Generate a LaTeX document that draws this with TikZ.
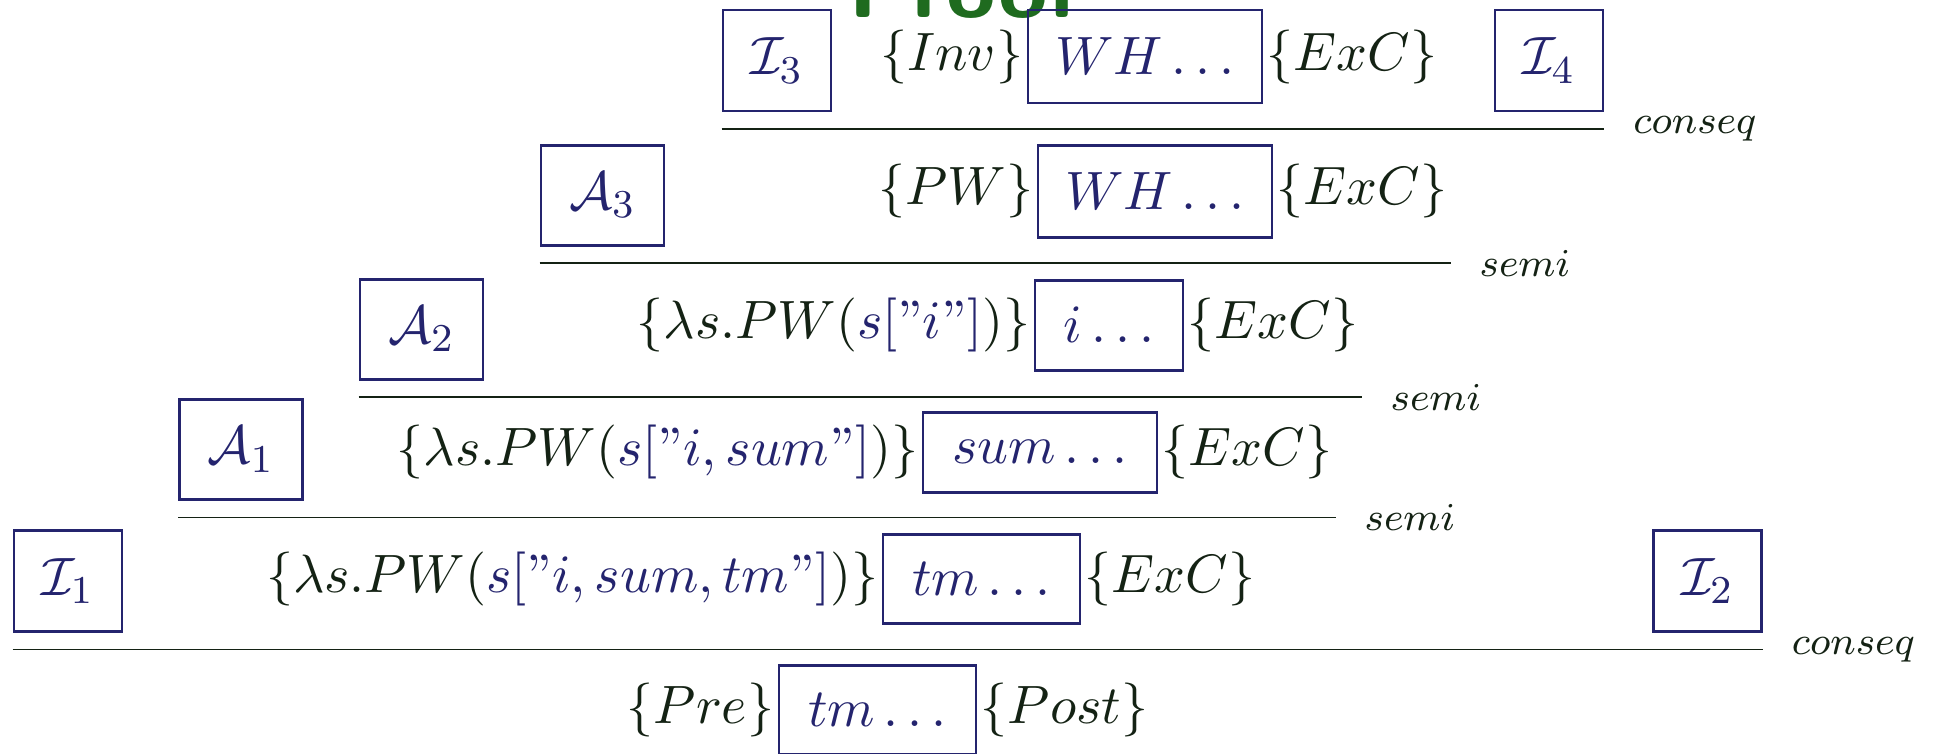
\documentclass[11pt,tikz,border=0pt]{standalone}
\usetikzlibrary{positioning,calc}
\definecolor{navy}{HTML}{24246E}
\definecolor{ink}{HTML}{142214}
\definecolor{proofgreen}{HTML}{1F6B1F}
\newcommand{\pxu}{0.00713cm}
\newcommand{\qq}{\mbox{\textquotedblright}}
\tikzset{
  sidebox/.style={draw=navy, line width=0.6pt, text=navy, inner sep=0pt},
  boxI/.style={sidebox, minimum width=108*\pxu, minimum height=101*\pxu},
  boxA/.style={sidebox, minimum width=123*\pxu, minimum height=100*\pxu},
  progbox/.style={draw=navy, line width=0.6pt, text=navy, inner sep=0pt},
  assn/.style={text=ink, inner sep=0.5pt},
  rulebar/.style={draw=ink, line width=0.35pt},
  rulename/.style={text=ink, anchor=west, inner sep=0pt, xshift=28*\pxu},
  prooftitle/.style={text=proofgreen, anchor=base west, inner sep=0pt, font=\fontsize{18.3}{22}\selectfont\sffamily\bfseries}
}

\begin{document}
\begin{tikzpicture}[x=\pxu, y=-\pxu]
  \useasboundingbox (0,0) rectangle (1942,753);
  % heading, cut by the page edge
  \node[prooftitle] (proof) at (848,17) {Proof};

  % row 1: loop invariant
  \node[boxI] (I3) at (777,60.5) {$\mathcal{I}_3$};
  \node[progbox, minimum width=234*\pxu, minimum height=93*\pxu] (wh1) at (1145,56.5) {$WH\ldots$};
  \node[assn, left=0pt of wh1] (inv) {$\{Inv\}$};
  \node[assn, right=0pt of wh1] (exc1) {$\{ExC\}$};
  \node[boxI] (I4) at (1549,60.5) {$\mathcal{I}_4$};
  \draw[rulebar] ($(I3.south west)+(0,16.5)$) -- ($(I4.south east)+(0,16.5)$) coordinate (bar1);
  \node[rulename] (conseq1) at (bar1) {$\scriptstyle conseq$};

  % row 2
  \node[boxA] (A3) at (602.5,195) {$\mathcal{A}_3$};
  \node[progbox, minimum width=234*\pxu, minimum height=92*\pxu] (wh2) at (1155,191) {$WH\ldots$};
  \node[assn, left=0pt of wh2] (pw2) {$\{PW\}$};
  \node[assn, right=0pt of wh2] (exc2) {$\{ExC\}$};
  \draw[rulebar] ($(A3.south west)+(0,16.5)$) -- ($(A3.south west -| exc2.east)+(0,16.5)$) coordinate (bar2);
  \node[rulename] (semi2) at (bar2) {$\scriptstyle semi$};

  % row 3
  \node[boxA] (A2) at (421.5,329) {$\mathcal{A}_2$};
  \node[progbox, minimum width=148*\pxu, minimum height=90*\pxu] (ib) at (1109,325) {$i\ldots$};
  \node[assn, left=0pt of ib] (pw3) {$\{\lambda s.PW(\textcolor{navy}{s[\qq i\qq]})\}$};
  \node[assn, right=0pt of ib] (exc3) {$\{ExC\}$};
  \draw[rulebar] ($(A2.south west)+(0,16.5)$) -- ($(A2.south west -| exc3.east)+(0,16.5)$) coordinate (bar3);
  \node[rulename] (semi3) at (bar3) {$\scriptstyle semi$};

  % row 4
  \node[boxA] (A1) at (241,449.5) {$\mathcal{A}_1$};
  \node[progbox, minimum width=234*\pxu, minimum height=80*\pxu] (sumb) at (1040,452) {$sum\ldots$};
  \node[assn, left=0pt of sumb] (pw4) {$\{\lambda s.PW(\textcolor{navy}{s[\qq i,sum\qq]})\}$};
  \node[assn, right=0pt of sumb] (exc4) {$\{ExC\}$};
  \draw[rulebar] ($(A1.south west)+(0,16.5)$) -- ($(A1.south west -| exc4.east)+(0,16.5)$) coordinate (bar4);
  \node[rulename] (semi4) at (bar4) {$\scriptstyle semi$};

  % row 5
  \node[boxI] (I1) at (68,581) {$\mathcal{I}_1$};
  \node[progbox, minimum width=197*\pxu, minimum height=89*\pxu] (tm5) at (981.5,578.5) {$tm\ldots$};
  \node[assn, left=0pt of tm5] (pw5) {$\{\lambda s.PW(\textcolor{navy}{s[\qq i,sum,tm\qq]})\}$};
  \node[assn, right=0pt of tm5] (exc5) {$\{ExC\}$};
  \node[boxI] (I2) at (1707.5,581) {$\mathcal{I}_2$};
  \draw[rulebar] ($(I1.south west)+(0,16.5)$) -- ($(I2.south east)+(0,16.5)$) coordinate (bar5);
  \node[rulename] (conseq5) at (bar5) {$\scriptstyle conseq$};

  % conclusion
  \node[progbox, minimum width=197*\pxu, minimum height=89*\pxu] (tm6) at (877.5,709.5) {$tm\ldots$};
  \node[assn, left=0pt of tm6] (pre) {$\{Pre\}$};
  \node[assn, right=0pt of tm6] (post) {$\{Post\}$};
\end{tikzpicture}
\end{document}
